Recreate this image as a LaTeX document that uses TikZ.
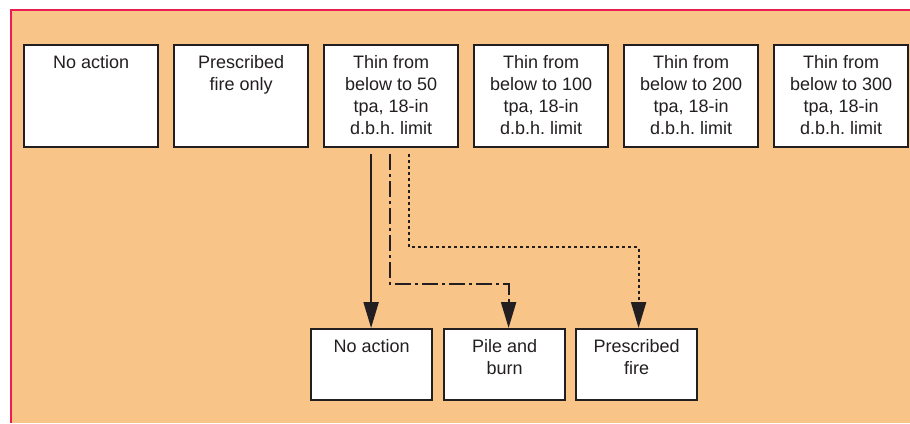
\documentclass[tikz,border=0pt]{standalone}
\usepackage{fontspec}
\setmainfont{Liberation Sans}
\usetikzlibrary{arrows.meta,positioning}

\definecolor{panel}{RGB}{249,196,135}
\definecolor{frame}{RGB}{236,28,82}
\definecolor{ink}{RGB}{35,31,32}

\tikzset{
  optbox/.style={draw=ink, fill=white, line width=2.2pt, minimum width=134pt,
    minimum height=102pt, anchor=north west, inner sep=0pt},
  subbox/.style={optbox, minimum width=121pt, minimum height=71pt},
  boxtext/.style={anchor=north, align=center, text=ink, inner sep=0pt,
    font=\fontsize{18}{22}\selectfont\frenchspacing, yshift=-11pt},
  flow/.style={draw=ink, line width=2.1pt, -{Triangle[length=26pt,width=15pt]}},
}

\begin{document}
\begin{tikzpicture}[x=1pt,y=-1pt]
    \useasboundingbox (0,0) rectangle (910,423);
    \fill [panel] (11,10) rectangle (910,423);
    \draw [frame, line width=2.6pt] (11,423) -- (11,10) -- (910,10);

    % treatments
    \foreach \i/\name/\txt in {0/none/{No action},
        1/rxonly/{Prescribed\\fire only},
        2/thin50/{Thin from\\below to 50\\tpa, 18-in\\d.b.h. limit},
        3/thin100/{Thin from\\below to 100\\tpa, 18-in\\d.b.h. limit},
        4/thin200/{Thin from\\below to 200\\tpa, 18-in\\d.b.h. limit},
        5/thin300/{Thin from\\below to 300\\tpa, 18-in\\d.b.h. limit}}
        {\node [optbox] (\name) at (23+150*\i,44) {};
         \node [boxtext] (\name-t) at (\name.north) {\txt};}

    % fuel treatments
    \node [subbox] (noact) at (310,328) {};
    \node [subbox] (burn) at (443,328) {};
    \node [subbox] (fire) at (575,328) {};
    \node [boxtext] (noact-t) at (noact.north) {No action};
    \node [boxtext] (burn-t) at (burn.north) {Pile and\\burn};
    \node [boxtext] (fire-t) at (fire.north) {Prescribed\\fire};

    \coordinate (s1) at ([xshift=-20pt,yshift=-6pt]thin50.south);
    \coordinate (s2) at ([xshift=-1pt,yshift=-6pt]thin50.south);
    \coordinate (s3) at ([xshift=18pt,yshift=-6pt]thin50.south);

    \draw [flow] (s1) -- (s1 |- noact.north);
    \draw [flow, dash pattern=on 16pt off 4pt on 3pt off 4pt]
        (s2) -- ++(0,130) -| ([xshift=4pt]burn.north);
    \draw [flow, dash pattern=on 3pt off 3pt]
        (s3) -- ++(0,93) -| ([xshift=2pt]fire.north);
\end{tikzpicture}
\end{document}
